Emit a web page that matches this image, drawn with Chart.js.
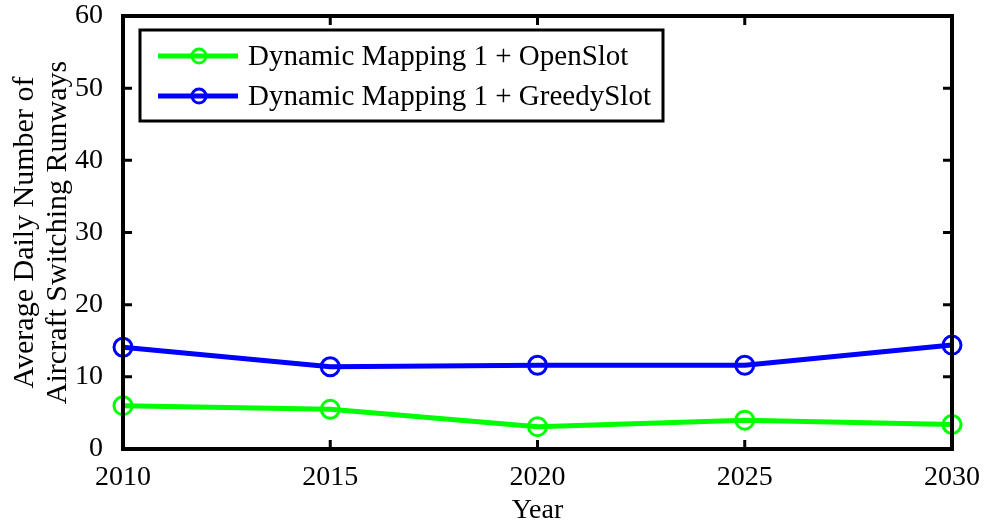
<!DOCTYPE html>
<html>
<head>
<meta charset="utf-8">
<script src="https://cdn.jsdelivr.net/npm/chart.js@4.4.0/dist/chart.umd.min.js"></script>
<style>
  html, body { margin: 0; padding: 0; background: #fff; }
  #wrap { width: 984px; height: 527px; }
</style>
</head>
<body>
<div id="wrap"><canvas id="runwayChart"></canvas></div>
<script>
// Valeurs
const years = [2010, 2015, 2020, 2025, 2030];
const openSlot = [6.0, 5.5, 3.1, 4.0, 3.4];
const greedySlot = [14.1, 11.4, 11.6, 11.6, 14.4];
const seriesLabels = ['Dynamic Mapping 1 + OpenSlot', 'Dynamic Mapping 1 + GreedySlot'];
const seriesColors = ['#00ff00', '#0000ff'];
const xTicks = [2010, 2015, 2020, 2025, 2030];
const yTicks = [0, 10, 20, 30, 40, 50, 60];
const yTitleLines = ['Average Daily Number of', 'Aircraft Switching Runways'];

const serif = "'Liberation Serif', 'Times New Roman', serif";

function toPoints(values) {
    return years.map((y, i) => ({ x: y, y: values[i] }));
}

// Cadre + graduations vers l'intérieur (style MATLAB)
const framePlugin = {
    id: 'frame',
    afterDatasetsDraw(chart) {
        const { ctx, chartArea: a, scales: { x, y } } = chart;
        ctx.save();
        ctx.strokeStyle = '#000';
        ctx.lineWidth = 4;
        ctx.strokeRect(a.left, a.top, a.right - a.left, a.bottom - a.top);
        ctx.lineWidth = 3;
        const len = 9;
        xTicks.forEach(v => {
            const px = x.getPixelForValue(v);
            ctx.beginPath();
            ctx.moveTo(px, a.bottom); ctx.lineTo(px, a.bottom - len);
            ctx.moveTo(px, a.top); ctx.lineTo(px, a.top + len);
            ctx.stroke();
        });
        yTicks.forEach(v => {
            const py = y.getPixelForValue(v);
            ctx.beginPath();
            ctx.moveTo(a.left, py); ctx.lineTo(a.left + len, py);
            ctx.moveTo(a.right, py); ctx.lineTo(a.right - len, py);
            ctx.stroke();
        });
        ctx.restore();
    }
};

// Titre de l'axe Y sur deux lignes
const yTitlePlugin = {
    id: 'yTitle',
    afterDraw(chart) {
        const { ctx, chartArea: a } = chart;
        const cy = (a.top + a.bottom) / 2;
        ctx.save();
        ctx.fillStyle = '#000';
        ctx.font = '30px ' + serif;
        ctx.textAlign = 'center';
        ctx.textBaseline = 'alphabetic';
        yTitleLines.forEach((line, i) => {
            ctx.save();
            ctx.translate(33 + i * 33, cy);
            ctx.rotate(-Math.PI / 2);
            ctx.fillText(line, 0, 0);
            ctx.restore();
        });
        ctx.restore();
    }
};

// Légende encadrée dans la zone du graphique
const legendBoxPlugin = {
    id: 'legendBox',
    afterDraw(chart) {
        const { ctx, chartArea: a } = chart;
        const left = a.left + 17, top = a.top + 14, w = 523, h = 91;
        ctx.save();
        ctx.fillStyle = '#fff';
        ctx.fillRect(left, top, w, h);
        ctx.strokeStyle = '#000';
        ctx.lineWidth = 3;
        ctx.strokeRect(left, top, w, h);
        ctx.font = '29px ' + serif;
        ctx.textBaseline = 'middle';
        chart.data.datasets.forEach((ds, i) => {
            const cy = top + 26 + i * 40;
            ctx.strokeStyle = ds.borderColor;
            ctx.lineWidth = 5;
            ctx.beginPath();
            ctx.moveTo(left + 18, cy); ctx.lineTo(left + 98, cy);
            ctx.stroke();
            ctx.lineWidth = 3;
            ctx.beginPath();
            ctx.arc(left + 59, cy, 7, 0, Math.PI * 2);
            ctx.stroke();
            ctx.fillStyle = '#000';
            ctx.fillText(ds.label, left + 108, cy + 1);
        });
        ctx.restore();
    }
};

const datasets = [openSlot, greedySlot].map((vals, i) => ({
    label: seriesLabels[i],
    data: toPoints(vals),
    borderColor: seriesColors[i],
    backgroundColor: 'rgba(0,0,0,0)',
    borderWidth: 5,
    pointRadius: 9,
    pointBorderWidth: 3,
    pointBackgroundColor: 'rgba(0,0,0,0)',
    pointBorderColor: seriesColors[i],
    tension: 0,
    clip: false
}));

new Chart(document.getElementById('runwayChart'), {
    type: 'line',
    data: { datasets },
    plugins: [framePlugin, yTitlePlugin, legendBoxPlugin],
    options: {
        responsive: true,
        maintainAspectRatio: false,
        animation: false,
        layout: { padding: { top: 16, right: 27, left: 0, bottom: 0 } },
        plugins: { legend: { display: false }, tooltip: { enabled: false } },
        scales: {
            x: {
                type: 'linear',
                min: 2010,
                max: 2030,
                afterBuildTicks: s => { s.ticks = xTicks.map(v => ({ value: v })); },
                afterFit: s => { s.height = 78; },
                grid: { display: false },
                border: { display: false },
                ticks: {
                    color: '#000',
                    font: { family: serif, size: 28 },
                    padding: 4,
                    maxRotation: 0,
                    callback: v => String(v)
                },
                title: {
                    display: true,
                    text: 'Year',
                    color: '#000',
                    font: { family: serif, size: 28 },
                    padding: { top: 0, bottom: 0 }
                }
            },
            y: {
                min: 0,
                max: 60,
                afterBuildTicks: s => { s.ticks = yTicks.map(v => ({ value: v })); },
                afterFit: s => { s.width = 123; s.paddingTop = 0; s.paddingBottom = 0; },
                grid: { display: false },
                border: { display: false },
                ticks: {
                    color: '#000',
                    font: { family: serif, size: 28 },
                    padding: 12
                }
            }
        }
    }
});
</script>
</body>
</html>
